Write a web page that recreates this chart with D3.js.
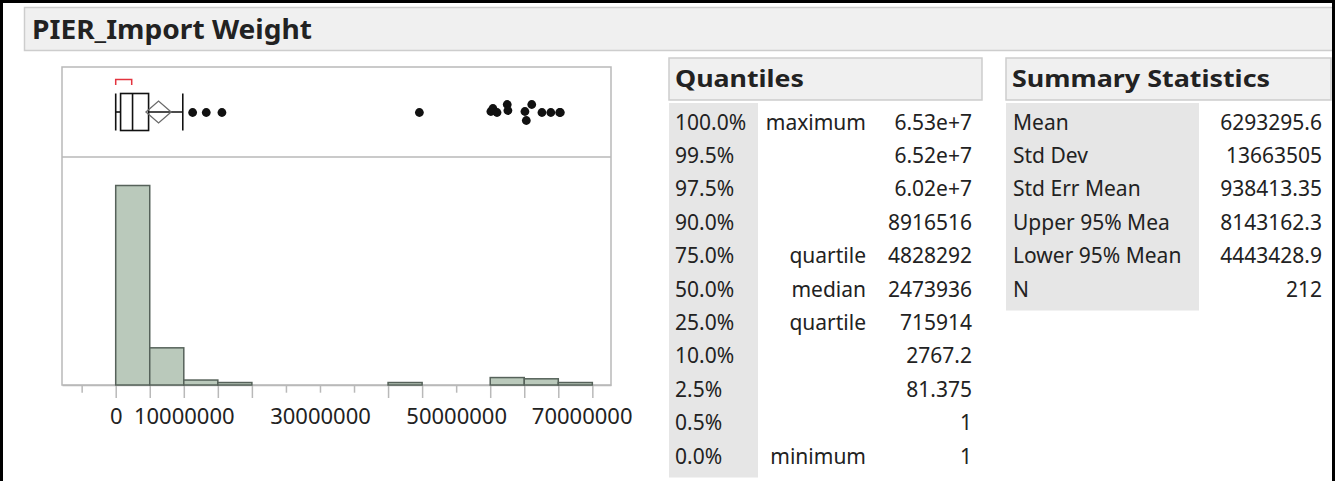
<!DOCTYPE html>
<html>
<head>
<meta charset="utf-8">
<script src="https://cdn.jsdelivr.net/npm/d3@7"></script>
<style>
  html, body { margin: 0; padding: 0; background: #fff; }
  svg { display: block; font-family: "Noto Sans", "Open Sans", sans-serif; }
</style>
</head>
<body>
<svg id="report" width="1335" height="481"></svg>
<script>

// ============================================================
//  DATA
// ============================================================

const TITLE = 'PIER_Import Weight';

// Histogram bins (5,000,000 wide) and their counts, N = 212
const BIN_EDGES = [0, 5e6, 10e6, 15e6, 20e6, 25e6, 30e6, 35e6, 40e6, 45e6, 50e6, 55e6, 60e6, 65e6, 70e6];
const BIN_COUNTS = [161, 30, 4, 2, 0, 0, 0, 0, 2, 0, 0, 6, 5, 2];

// Axis ticks and the ones that carry a label
const TICK_VALUES = [-5e6, 0, 5e6, 10e6, 15e6, 20e6, 25e6, 30e6, 35e6, 40e6, 45e6, 50e6, 55e6, 60e6, 65e6, 70e6];
const LABELED_TICKS = [0, 10e6, 30e6, 50e6, 70e6];

// Outlier box plot
const BOX_MIN = 1;
const BOX_Q1 = 715914;
const BOX_MEDIAN = 2473936;
const BOX_Q3 = 4828292;
const BOX_WHISKER_HI = 9.85e6;
const MEAN = 6293295.6;
const MEAN_CI = [4443428.9, 8143162.3];
const SHORTEST_HALF = [1, 2.35e6];
const OUTLIER_VALUES = [11.3e6, 13.3e6, 15.6e6, 44.6e6, 55.1e6, 55.4e6, 56.0e6, 57.5e6, 57.6e6,
                        60.1e6, 60.3e6, 61.1e6, 62.6e6, 63.9e6, 65.2e6, 65.3e6];

// Quantiles table
const QUANTILE_LEVELS = ['100.0%', '99.5%', '97.5%', '90.0%', '75.0%', '50.0%', '25.0%', '10.0%', '2.5%', '0.5%', '0.0%'];
const QUANTILE_NAMES = ['maximum', '', '', '', 'quartile', 'median', 'quartile', '', '', '', 'minimum'];
const QUANTILE_VALUES = ['6.53e+7', '6.52e+7', '6.02e+7', '8916516', '4828292', '2473936', '715914', '2767.2', '81.375', '1', '1'];

// Summary statistics table
const SUMMARY_LABELS = ['Mean', 'Std Dev', 'Std Err Mean', 'Upper 95% Mea', 'Lower 95% Mean', 'N'];
const SUMMARY_VALUES = ['6293295.6', '13663505', '938413.35', '8143162.3', '4443428.9', '212'];


// ============================================================
//  CONFIGURATION
// ============================================================

const CONFIG = {
    // -- Plot frame ------------------------------------------
    FRAME: { LEFT: 62, RIGHT: 611, TOP: 67, SPLIT: 157, BOTTOM: 385 },
    X_DOMAIN: [-7.887e6, 72.74e6],
    HIST_Y_MAX: 184,

    // Box plot
    BOX_CY: 112,
    BOX_HALF: 18.5,
    DIAMOND_HALF: 11,
    BRACKET_Y: 79.5,
    BRACKET_DROP: 5.5,
    DOT_R: 4.4,

    // Axis
    TICK_LONG: 13,
    TICK_SHORT: 7.7,
    LABEL_MAX_X: 632,   // JMP pushes the last label back inside the report

    // Colors
    TEXT: "#222",
    FRAME_COLOR: "#b9b9b9",
    BAR_FILL: "#bac9bb",
    BAR_STROKE: "#56625a",
    HEADER_FILL: "#f0f0f0",
    HEADER_STROKE: "#cdcdcd",
    LABEL_FILL: "#e6e6e6",
    BRACKET_COLOR: "#e3343f",

    // Tables
    ROW_Y0: 129.5,
    ROW_H: 33.4,
    FONT_SIZE: "21px",
};

// vertical jitter (px) JMP gave each outlier dot
const OUTLIER_JITTER = [0, 0, 0, 0, -1, -4, 0, -8, -2, -1, 8, -8, 0, 0, 0, 0];

const svg = d3.select("#report");
const F = CONFIG.FRAME;


// ============================================================
//  REPORT HEADER
// ============================================================

svg.append("rect")
    .attr("x", 24.5).attr("y", 7.5)
    .attr("width", 1330).attr("height", 43)
    .attr("fill", CONFIG.HEADER_FILL)
    .attr("stroke", CONFIG.HEADER_STROKE)
    .attr("stroke-width", 1.5);

svg.append("text")
    .attr("x", 32).attr("y", 39)
    .attr("font-size", "27px")
    .attr("font-weight", "bold")
    .attr("fill", CONFIG.TEXT)
    .attr("textLength", 280)
    .attr("lengthAdjust", "spacingAndGlyphs")
    .text(TITLE);


// ============================================================
//  HISTOGRAM + BOX PLOT
// ============================================================

const x = d3.scaleLinear()
    .domain(CONFIG.X_DOMAIN)
    .range([F.LEFT, F.RIGHT]);

const y = d3.scaleLinear()
    .domain([0, CONFIG.HIST_Y_MAX])
    .range([F.BOTTOM, F.SPLIT]);

// --- Frame ---
svg.append("rect")
    .attr("x", F.LEFT).attr("y", F.TOP)
    .attr("width", F.RIGHT - F.LEFT).attr("height", F.BOTTOM - F.TOP)
    .attr("fill", "none")
    .attr("stroke", CONFIG.FRAME_COLOR)
    .attr("stroke-width", 1.5);

svg.append("line")
    .attr("x1", F.LEFT).attr("x2", F.RIGHT)
    .attr("y1", F.SPLIT).attr("y2", F.SPLIT)
    .attr("stroke", CONFIG.FRAME_COLOR)
    .attr("stroke-width", 1.5);

// --- Axis ---
// Ticks on the edge of a non-empty bar are drawn long, the rest short
const bins = BIN_COUNTS.map((c, i) => ({ x0: BIN_EDGES[i], x1: BIN_EDGES[i + 1], count: c }));
const longTicks = new Set();
bins.filter(b => b.count > 0).forEach(b => { longTicks.add(b.x0); longTicks.add(b.x1); });

const axis = svg.append("g")
    .attr("transform", `translate(0, ${F.BOTTOM})`)
    .call(d3.axisBottom(x)
        .tickValues(TICK_VALUES)
        .tickSizeInner(CONFIG.TICK_LONG)
        .tickSizeOuter(0)
        .tickPadding(10.4)
        .tickFormat(d => LABELED_TICKS.includes(d) ? d3.format("d")(d) : ""));

axis.attr("font-family", null).attr("font-size", "22px");
axis.select(".domain").attr("stroke", CONFIG.FRAME_COLOR).attr("stroke-width", 1.5);
axis.selectAll(".tick line")
    .attr("stroke", CONFIG.FRAME_COLOR)
    .attr("stroke-width", 1.5)
    .attr("y2", d => longTicks.has(d) ? CONFIG.TICK_LONG : CONFIG.TICK_SHORT);
axis.selectAll(".tick text")
    .attr("fill", CONFIG.TEXT)
    .each(function (d) {
        // keep a label from running past the right edge of the report panel
        const w = this.getComputedTextLength();
        const overflow = x(d) + w / 2 - CONFIG.LABEL_MAX_X;
        if (overflow > 0) d3.select(this).attr("dx", -overflow);
    });

// --- Bars ---
svg.append("g")
    .selectAll("rect")
    .data(bins.filter(b => b.count > 0))
    .join("rect")
    .attr("x", d => x(d.x0))
    .attr("y", d => y(d.count))
    .attr("width", d => x(d.x1) - x(d.x0))
    .attr("height", d => y(0) - y(d.count))
    .attr("fill", CONFIG.BAR_FILL)
    .attr("stroke", CONFIG.BAR_STROKE)
    .attr("stroke-width", 1.5);

// --- Box plot ---
const cy = CONFIG.BOX_CY;
const h = CONFIG.BOX_HALF;
const box = svg.append("g")
    .attr("fill", "none")
    .attr("stroke", "#111")
    .attr("stroke-width", 1.6);

// whiskers
box.append("line")
    .attr("x1", x(BOX_MIN)).attr("x2", x(BOX_Q1))
    .attr("y1", cy).attr("y2", cy);
box.append("line")
    .attr("x1", x(BOX_Q3)).attr("x2", x(BOX_WHISKER_HI))
    .attr("y1", cy).attr("y2", cy);
[BOX_MIN, BOX_WHISKER_HI].forEach(v => {
    box.append("line")
        .attr("x1", x(v)).attr("x2", x(v))
        .attr("y1", cy - h).attr("y2", cy + h);
});

// box + median
box.append("rect")
    .attr("x", x(BOX_Q1)).attr("y", cy - h)
    .attr("width", x(BOX_Q3) - x(BOX_Q1)).attr("height", 2 * h);
box.append("line")
    .attr("x1", x(BOX_MEDIAN)).attr("x2", x(BOX_MEDIAN))
    .attr("y1", cy - h).attr("y2", cy + h);

// mean confidence diamond
const dh = CONFIG.DIAMOND_HALF;
box.append("path")
    .attr("d", `M${x(MEAN_CI[0])},${cy} L${x(MEAN)},${cy - dh} L${x(MEAN_CI[1])},${cy} L${x(MEAN)},${cy + dh} Z`)
    .attr("stroke", "#6b6b6b")
    .attr("stroke-width", 1.3);

// shortest half bracket
const by = CONFIG.BRACKET_Y;
svg.append("path")
    .attr("d", `M${x(SHORTEST_HALF[0])},${by + CONFIG.BRACKET_DROP} V${by} H${x(SHORTEST_HALF[1])} V${by + CONFIG.BRACKET_DROP}`)
    .attr("fill", "none")
    .attr("stroke", CONFIG.BRACKET_COLOR)
    .attr("stroke-width", 1.5);

// outliers
svg.append("g")
    .selectAll("circle")
    .data(OUTLIER_VALUES)
    .join("circle")
    .attr("cx", d => x(d))
    .attr("cy", (d, i) => cy + 0.5 + OUTLIER_JITTER[i])
    .attr("r", CONFIG.DOT_R)
    .attr("fill", "#111");


// ============================================================
//  TABLES
// ============================================================

function drawHeader(x0, x1, label, textWidth) {
    svg.append("rect")
        .attr("x", x0).attr("y", 58)
        .attr("width", x1 - x0).attr("height", 42)
        .attr("fill", CONFIG.HEADER_FILL)
        .attr("stroke", CONFIG.HEADER_STROKE)
        .attr("stroke-width", 1.5);
    svg.append("text")
        .attr("x", x0 + 6).attr("y", 87)
        .attr("font-size", "24px")
        .attr("font-weight", "bold")
        .attr("fill", CONFIG.TEXT)
        .attr("textLength", textWidth)
        .attr("lengthAdjust", "spacingAndGlyphs")
        .text(label);
}

function drawColumn(values, xPos, anchor) {
    svg.append("g")
        .attr("font-size", CONFIG.FONT_SIZE)
        .attr("fill", CONFIG.TEXT)
        .attr("text-anchor", anchor)
        .selectAll("text")
        .data(values)
        .join("text")
        .attr("x", xPos)
        .attr("y", (d, i) => CONFIG.ROW_Y0 + i * CONFIG.ROW_H)
        .text(d => d);
}

const rowsBottom = n => CONFIG.ROW_Y0 + (n - 1) * CONFIG.ROW_H + 14;

// --- Quantiles ---
drawHeader(669, 982, "Quantiles", 129);
svg.append("rect")
    .attr("x", 669).attr("y", 103)
    .attr("width", 89).attr("height", rowsBottom(QUANTILE_LEVELS.length) - 103)
    .attr("fill", CONFIG.LABEL_FILL);
drawColumn(QUANTILE_LEVELS, 675, "start");
drawColumn(QUANTILE_NAMES, 866, "end");
drawColumn(QUANTILE_VALUES, 972, "end");

// --- Summary Statistics ---
drawHeader(1006, 1331, "Summary Statistics", 258);
svg.append("rect")
    .attr("x", 1006).attr("y", 103)
    .attr("width", 193).attr("height", rowsBottom(SUMMARY_LABELS.length) - 103)
    .attr("fill", CONFIG.LABEL_FILL);
drawColumn(SUMMARY_LABELS, 1013, "start");
drawColumn(SUMMARY_VALUES, 1322, "end");

// --- Outer window border (left, top, right) ---
svg.append("path")
    .attr("d", "M1.5,481 V1.5 H1333.5 V481")
    .attr("fill", "none")
    .attr("stroke", "#000")
    .attr("stroke-width", 3);

</script>
</body>
</html>
